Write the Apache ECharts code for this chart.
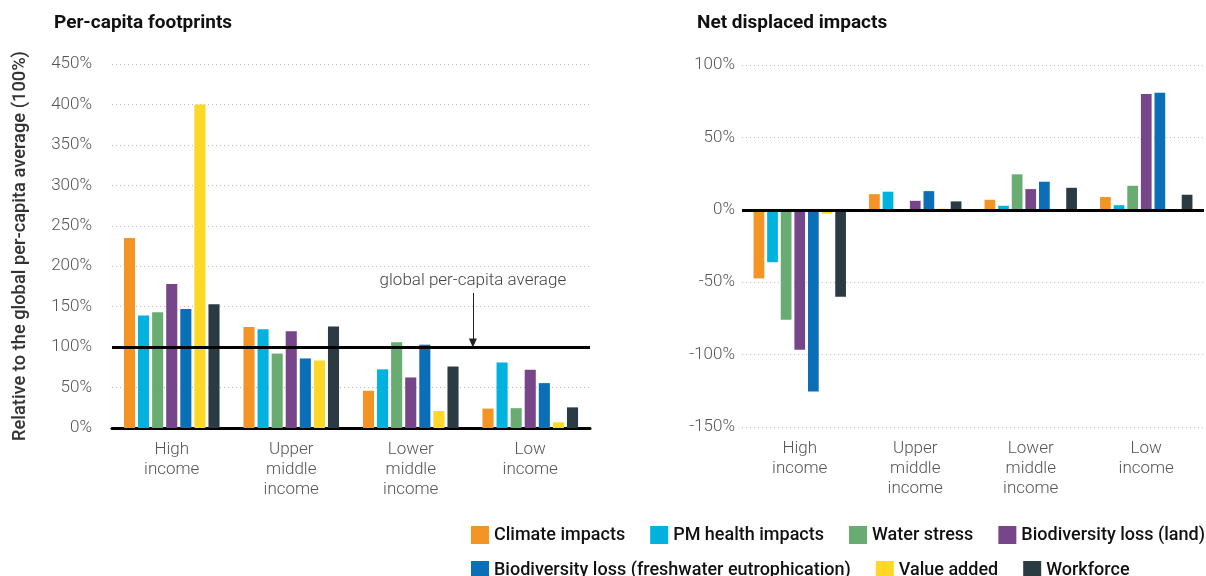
<!DOCTYPE html>
<html><head><meta charset="utf-8">
<script src="https://cdn.jsdelivr.net/npm/echarts@6/dist/echarts.min.js"></script>
<style>html,body{margin:0;padding:0;background:#fff}#c{width:1206px;height:576px}</style>
</head><body><div id="c"></div>
<script>
// ---- data ----
const categories = ['High\nincome', 'Upper\nmiddle\nincome', 'Lower\nmiddle\nincome', 'Low\nincome'];
const seriesNames = ['Climate impacts', 'PM health impacts', 'Water stress', 'Biodiversity loss (land)',
  'Biodiversity loss (freshwater eutrophication)', 'Value added', 'Workforce'];
const seriesColors = ['#F39425', '#00B2DD', '#68AC72', '#77468A', '#0B6FB7', '#FDD826', '#2B3B43'];

// Per-capita footprints (% of global per-capita average)
const fpClimate   = [235, 125, 46, 24];
const fpPM        = [139, 122, 72.5, 81];
const fpWater     = [143, 92, 106, 24.5];
const fpBioLand   = [178, 119.5, 62.5, 72];
const fpBioFresh  = [147, 86, 103, 55.5];
const fpValue     = [400, 83.5, 21, 7];
const fpWorkforce = [153, 125.5, 76, 25.5];

// Net displaced impacts (%)
const ndClimate   = [-47.4, 10.8, 6.9, 8.8];
const ndPM        = [-36.2, 12.5, 2.8, 3.2];
const ndWater     = [-76, 0, 24.5, 16.6];
const ndBioLand   = [-96.6, 6.2, 14.3, 80];
const ndBioFresh  = [-125.4, 12.9, 19.4, 80.9];
const ndValue     = [-2.7, 0.8, 0, 0];
const ndWorkforce = [-60, 5.8, 15.2, 10.4];

const leftTicks = {min: 0, max: 450, interval: 50};
const rightTicks = {min: -150, max: 100, interval: 50};
const globalAverage = 100;
const annotationText = 'global per-capita average';

// ---- chart ----
const fpData = [fpClimate, fpPM, fpWater, fpBioLand, fpBioFresh, fpValue, fpWorkforce];
const ndData = [ndClimate, ndPM, ndWater, ndBioLand, ndBioFresh, ndValue, ndWorkforce];
const FONT = 'Roboto, "Noto Sans", sans-serif';
const labelColor = '#555';

const chart = echarts.init(document.getElementById('c'), null, {renderer: 'canvas'});

const series = [];
seriesNames.forEach((name, i) => {
  series.push({
    name, type: 'bar', xAxisIndex: 0, yAxisIndex: 0, data: fpData[i],
    itemStyle: {color: seriesColors[i]},
    barGap: '27%', barCategoryGap: '20%',
    animation: false
  });
});
seriesNames.forEach((name, i) => {
  series.push({
    name, type: 'bar', xAxisIndex: 1, yAxisIndex: 1, data: ndData[i],
    itemStyle: {color: seriesColors[i]},
    barGap: '27%', barCategoryGap: '20%',
    animation: false
  });
});
// reference line at 100% (left) and zero line (right)
series.push({
  type: 'line', xAxisIndex: 0, yAxisIndex: 0, data: [], z: 10, animation: false,
  markLine: {
    silent: true, symbol: ['none', 'none'], animation: false,
    lineStyle: {color: '#000', width: 3, type: 'solid'}, label: {show: false},
    data: [{yAxis: globalAverage}]
  }
});
series.push({
  type: 'line', xAxisIndex: 1, yAxisIndex: 1, data: [], z: 10, animation: false,
  markLine: {
    silent: true, symbol: ['none', 'none'], animation: false,
    lineStyle: {color: '#000', width: 3, type: 'solid'}, label: {show: false},
    data: [{yAxis: 0}]
  }
});
// annotation arrow on a hidden value x-axis of the left grid
series.push({
  type: 'line', xAxisIndex: 2, yAxisIndex: 0, data: [], z: 11, animation: false,
  markLine: {
    silent: true, animation: false,
    symbol: ['none', 'triangle'], symbolSize: [8, 9],
    lineStyle: {color: '#222', width: 1, type: 'solid'},
    label: {show: true, position: 'start', formatter: annotationText, color: '#444',
      fontSize: 17, fontFamily: FONT, fontWeight: 300, distance: 4},
    data: [[{coord: [3.02, 167]}, {coord: [3.02, 105]}]]
  }
});

const catAxisCommon = {
  type: 'category', data: categories,
  axisTick: {show: false},
  axisLabel: {color: labelColor, fontSize: 17, fontFamily: FONT, fontWeight: 300, lineHeight: 20, margin: 12, interval: 0}
};
const valAxisCommon = {
  type: 'value',
  axisLine: {show: false}, axisTick: {show: false},
  splitLine: {show: true, lineStyle: {color: '#bbb', type: [1, 3], width: 1}},
  axisLabel: {color: labelColor, fontSize: 17, fontFamily: FONT, fontWeight: 300, formatter: '{value}%'}
};
const legendText = {fontSize: 18, fontWeight: 500, color: '#111', fontFamily: FONT};

chart.setOption({
  backgroundColor: '#fff',
  animation: false,
  title: [
    {text: 'Per-capita footprints', left: 54, top: 14, padding: 0,
      textStyle: {fontSize: 19, fontWeight: 'bold', color: '#111', fontFamily: FONT}},
    {text: 'Net displaced impacts', left: 697, top: 14, padding: 0,
      textStyle: {fontSize: 19, fontWeight: 'bold', color: '#111', fontFamily: FONT}}
  ],
  legend: [
    {data: seriesNames.slice(0, 4), left: 471, top: 526, width: 800, padding: 0, icon: 'rect', itemWidth: 18, itemHeight: 18, itemGap: 25,
      textStyle: legendText},
    {data: seriesNames.slice(4), left: 471, top: 561, width: 800, padding: 0, icon: 'rect', itemWidth: 18, itemHeight: 18, itemGap: 25,
      textStyle: legendText}
  ],
  grid: [
    {left: 112, right: 616, top: 64, bottom: 148, containLabel: false},
    {left: 742, right: 2, top: 65, bottom: 149, containLabel: false}
  ],
  xAxis: [
    Object.assign({}, catAxisCommon, {gridIndex: 0, axisLine: {show: true, lineStyle: {color: '#000', width: 3}}}),
    Object.assign({}, catAxisCommon, {gridIndex: 1, axisLine: {show: false, onZero: false}}),
    {type: 'value', gridIndex: 0, min: 0, max: 4, show: false}
  ],
  yAxis: [
    Object.assign({}, valAxisCommon, {gridIndex: 0, min: leftTicks.min, max: leftTicks.max, interval: leftTicks.interval,
      name: 'Relative to the global per-capita average (100%)', nameLocation: 'middle', nameGap: 83,
      nameTextStyle: {fontSize: 18.3, fontWeight: 500, color: '#333', fontFamily: FONT},
      axisLabel: Object.assign({}, valAxisCommon.axisLabel, {margin: 20})}),
    Object.assign({}, valAxisCommon, {gridIndex: 1, min: rightTicks.min, max: rightTicks.max, interval: rightTicks.interval,
      axisLabel: Object.assign({}, valAxisCommon.axisLabel, {margin: 7})})
  ],
  series
});
</script>
</body></html>
